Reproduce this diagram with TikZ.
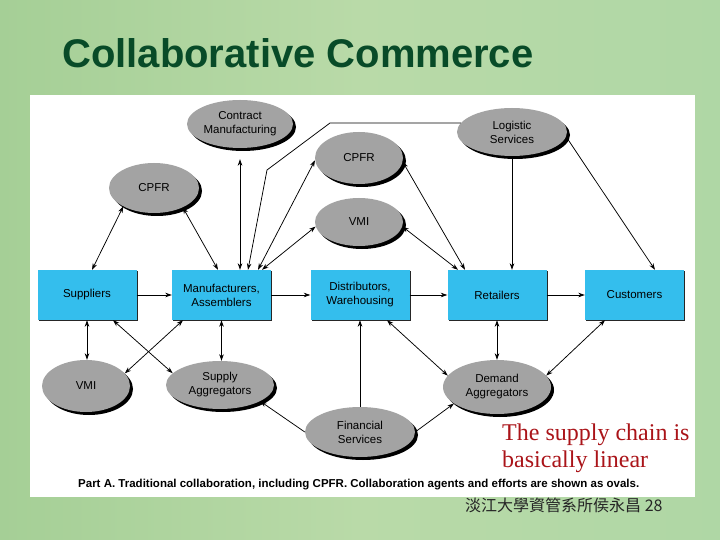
\documentclass[tikz,border=0pt]{standalone}
\usepackage{fontspec}
\setmainfont{Liberation Sans}
\newfontfamily\serifr{Liberation Serif}
\newfontfamily\cjk{Noto Sans CJK TC}
\usetikzlibrary{shapes.geometric,arrows.meta,shadows}
\definecolor{bgL}{RGB}{165,207,150}
\definecolor{bgM}{RGB}{185,218,168}
\definecolor{bgR}{RGB}{175,215,165}
\definecolor{boxc}{RGB}{52,190,237}
\definecolor{ovalc}{RGB}{163,163,163}
\definecolor{titlec}{RGB}{8,75,40}
\definecolor{redc}{RGB}{170,20,25}
\tikzset{
  >={Stealth[length=6.5pt,width=4.5pt]},
  conn/.style={line width=0.75pt, black},
  box/.style={rectangle, fill=boxc, minimum width=99pt, minimum height=50pt, inner sep=0pt,
    align=center, font=\fontsize{11.5}{14}\selectfont,
    drop shadow={shadow xshift=1.2pt, shadow yshift=-1.2pt, fill=black!85, opacity=1}},
  oval/.style={ellipse, fill=ovalc, inner sep=0pt, align=center, font=\fontsize{11.5}{14}\selectfont,
    drop shadow={shadow xshift=3pt, shadow yshift=-3pt, fill=black, opacity=1}},
}
\begin{document}
\begin{tikzpicture}[x=1pt,y=-1pt]
\useasboundingbox (0,0) rectangle (720,540);
\shade[left color=bgL, right color=bgR, middle color=bgM] (0,0) rectangle (720,540);
\fill[white] (30,95) rectangle (695,497);

\node[anchor=base west, inner sep=0pt, text=titlec, font=\fontsize{40}{44}\selectfont\bfseries] (title) at (62,68) {Collaborative Commerce};

% boxes
\node[box] (sup) at (87,295) {Suppliers};
\node[box] (man) at (221.5,295) {Manufacturers,\\Assemblers};
\node[box] (dis) at (360,295) {Distributors,\\Warehousing};
\node[box] (ret) at (497,295) {Retailers};
\node[box] (cus) at (634.5,295) {Customers};

% ovals
\node[oval, minimum width=106pt, minimum height=48pt] (cm) at (240,124) {Contract\\Manufacturing};
\node[oval, minimum width=90pt, minimum height=50pt] (cpfrL) at (154,188) {CPFR};
\node[oval, minimum width=88pt, minimum height=52pt] (cpfrM) at (359,158) {CPFR};
\node[oval, minimum width=88pt, minimum height=48pt] (vmiM) at (359,222) {VMI};
\node[oval, minimum width=110pt, minimum height=48pt] (log) at (512,132) {Logistic\\Services};
\node[oval, minimum width=88pt, minimum height=52pt] (vmiB) at (86,386) {VMI};
\node[oval, minimum width=108pt, minimum height=48pt] (sa) at (220,385) {Supply\\Aggregators};
\node[oval, minimum width=110pt, minimum height=50pt] (fin) at (360,432) {Financial\\Services};
\node[oval, minimum width=108pt, minimum height=54pt] (dem) at (497,387) {Demand\\Aggregators};

\coordinate (lc1) at (330,123);
\coordinate (lc2) at (267,170);

% horizontal flow
\draw[conn,->] (sup) -- (man);
\draw[conn,->] (man) -- (dis);
\draw[conn,->] (dis) -- (ret);
\draw[conn,->] (ret) -- (cus);

% upper connectors
\draw[conn,<->] ([xshift=5pt]sup.north) -- (cpfrL.211);
\draw[conn,<->] (cpfrL.-34) -- ([xshift=-3.5pt]man.north);
\draw[conn,<->] ([yshift=-11pt]cm.south) -- (cm.south |- man.north);
\draw[conn,->] (log.170) -- (lc1) -- (lc2) -- ([xshift=26.5pt]man.north);
\draw[conn,<->] (cpfrM.183) -- ([xshift=36.5pt]man.north);
\draw[conn,<->] (vmiM.186) -- ([xshift=40.5pt]man.north);
\draw[conn,<->] (cpfrM.-5) -- ([xshift=-32pt]ret.north);
\draw[conn,<->] (vmiM.-6) -- ([xshift=-39pt]ret.north);
\draw[conn,->] (log.south) -- (log.south |- ret.north);
\draw[conn,->] (log.-5) -- ([xshift=20.5pt]cus.north);

% lower connectors
\draw[conn,<->] (sup.south) -- (sup.south |- vmiB.north);
\draw[conn,<->] ([xshift=26pt]sup.south) -- (sa.166);
\draw[conn,<->] ([xshift=-38.5pt]man.south) -- (vmiB.18);
\draw[conn,<->] (man.south) -- (man.south |- sa.north);
\draw[conn,->] (fin.180) -- (sa.-22);
\draw[conn,->] (fin.north) -- (fin.north |- dis.south);
\draw[conn,->] (fin.0) -- (dem.201);
\draw[conn,<->] ([xshift=27pt]dis.south) -- (dem.167);
\draw[conn,<->] (ret.south) -- (ret.south |- dem.north);
\draw[conn,<->] ([xshift=-29.5pt]cus.south) -- (dem.13);

\node[anchor=base west, inner sep=0pt, font=\fontsize{11.5}{13}\selectfont\bfseries] (cap) at (78,487) {Part A. Traditional collaboration, including CPFR. Collaboration agents and efforts are shown as ovals.};

\node[anchor=base west, text=redc, align=left, font=\serifr\fontsize{24}{27}\selectfont, inner sep=0pt] (note) at (502,467) {The supply chain is\\basically linear};

\node[anchor=base west, inner sep=0pt, text=black!85, font=\cjk\fontsize{16}{18}\selectfont] (foot) at (465,511) {淡江大學資管系所侯永昌\ 28};
\end{tikzpicture}
\end{document}
